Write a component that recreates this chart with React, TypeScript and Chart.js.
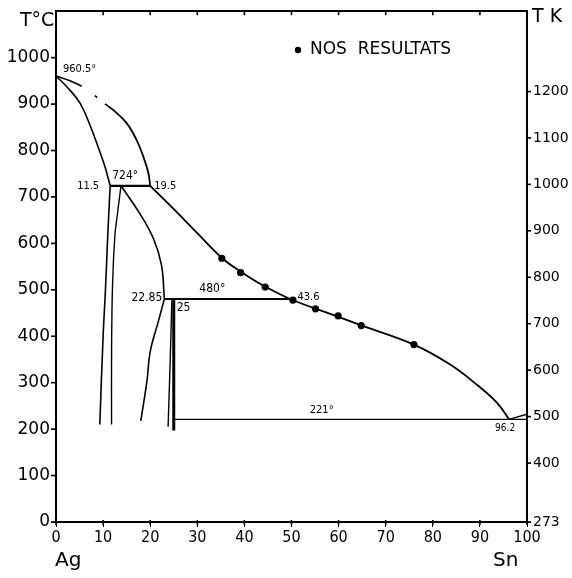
import React, { useEffect, useRef } from "react";
import { Chart, registerables } from "chart.js";

Chart.register(...registerables);

// ---- axis ticks ----
const compositionTicks = [0, 10, 20, 30, 40, 50, 60, 70, 80, 90, 100];
const celsiusTicks = [0, 100, 200, 300, 400, 500, 600, 700, 800, 900, 1000];
const kelvinTicks = [273, 400, 500, 600, 700, 800, 900, 1000, 1100, 1200];

// ---- liquidus ----
const liqDashX = [0, 3.0, 6.5, 9.3, 11.0];
const liqDashT = [960.5, 950, 932, 909, 896];
const liqUpperX = [11.0, 12.2, 15.0, 17.1, 18.5, 19.6, 20.0];
const liqUpperT = [896, 887, 859, 823, 788, 752, 724];
const liqLowerX = [20.0, 25.6, 30.0, 35.3, 39.4, 44.4, 50.2, 57.5, 65.0, 76.0, 83.7, 89.3, 93.6, 96.2];
const liqLowerT = [724, 668, 622, 568, 538, 507, 478, 451, 423, 382, 339, 296, 257, 221];

// ---- solidus / solvus lines ----
const agSolidusX = [0, 2.5, 5.1, 7.2, 9.0, 10.4, 11.5];
const agSolidusT = [960.5, 935, 902, 855, 806, 765, 724];
const agSolvusX = [11.5, 11.0, 10.5, 10.0, 9.3];
const agSolvusT = [724, 620, 500, 400, 210];
const zetaLeftX = [13.8, 13.0, 12.5, 12.0, 11.8, 11.8];
const zetaLeftT = [724, 660, 617, 510, 367, 210];
const zetaRightUpX = [13.8, 17.8, 20.7, 22.4, 23.0];
const zetaRightUpT = [724, 664, 610, 553, 480];
const zetaRightLowX = [23.0, 21.7, 20.0, 19.3, 18.0];
const zetaRightLowT = [480, 431, 367, 303, 218];
const epsLeftX = [24.6, 24.4, 24.1, 23.8];
const epsLeftT = [480, 400, 300, 205];
const epsRightX = [25, 25];
const epsRightT = [480, 197];

// ---- invariant lines ----
const peri724X = [11.5, 20.0];
const peri724T = [724, 724];
const peri480X = [23.0, 50.2];
const peri480T = [480, 480];
const eut221X = [25, 100];
const eut221T = [221, 221];
const snX = [96.2, 100];
const snT = [221, 232];

// ---- measured points (NOS RESULTATS) ----
const resultsX = [35.2, 39.2, 44.4, 50.3, 55.1, 59.9, 64.8, 76.0];
const resultsT = [568, 537, 506, 478, 459, 444, 423, 382];

const toPts = (xs: number[], ts: number[]) => xs.map((x, i) => ({ x, y: ts[i] }));

const SANS = "'DejaVu Sans', 'Liberation Sans', sans-serif";
const COND = "'DejaVu Sans Condensed', 'Liberation Sans Narrow', 'DejaVu Sans', sans-serif";

function line(xs: number[], ts: number[], width = 1.8, dash: number[] = [], tension = 0.4) {
  return {
    data: toPts(xs, ts),
    showLine: true,
    borderColor: "#000",
    backgroundColor: "#000",
    borderWidth: width,
    borderDash: dash,
    pointRadius: 0,
    tension,
    xAxisID: "x",
    yAxisID: "y",
  };
}

const plainLabel = (v: any) => String(v);

const labelsPlugin = {
  id: "phaseLabels",
  afterDraw(chart: any) {
    const { ctx, chartArea } = chart;
    const x = chart.scales.x;
    const y = chart.scales.y;
    const yK = chart.scales.yK;
    const px = (v: number) => x.getPixelForValue(v);
    const py = (v: number) => y.getPixelForValue(v);
    ctx.save();
    ctx.fillStyle = "#000";
    ctx.strokeStyle = "#000";
    ctx.textBaseline = "middle";
    const txt = (s: string, xx: number, yy: number, size: number, align = "left", fam = COND) => {
      ctx.font = `${size}px ${fam}`;
      ctx.textAlign = align;
      ctx.fillText(s, xx, yy);
    };
    const seg = (x1: number, y1: number, x2: number, y2: number) => {
      ctx.beginPath();
      ctx.moveTo(x1, y1);
      ctx.lineTo(x2, y2);
      ctx.stroke();
    };
    txt("960.5°", px(0) + 7, py(960.5) - 7, 11);
    txt("11.5", px(peri724X[0]) - 11, py(724), 11, "right");
    txt("724°", px(peri724X[0]) + 2, py(724) - 10, 12);
    txt("19.5", px(peri724X[1]) + 4, py(724), 11);
    txt("22.85", px(peri480X[0]) - 2, py(480) - 1, 12, "right");
    txt("480°", px(peri480X[0]) + 35, py(480) - 10, 12);
    txt("25", px(25) + 3, py(480) + 9, 12);
    txt("43.6", px(peri480X[1]) + 5, py(480) - 2, 11);
    txt("221°", px(25) + 136, py(221) - 9, 11);
    txt("96.2", px(96.2) - 4, py(221) + 9, 10, "center");

    // tick marks
    ctx.lineWidth = 1.6;
    for (const v of compositionTicks) {
      if (v > 0 && v < 100) seg(px(v), chartArea.top, px(v), chartArea.top + 4);
      seg(px(v), chartArea.bottom - 2, px(v), chartArea.bottom + 3);
    }
    for (const v of celsiusTicks) seg(chartArea.left, py(v), chartArea.left - 5, py(v));
    for (const v of kelvinTicks) seg(chartArea.right, yK.getPixelForValue(v), chartArea.right + 4, yK.getPixelForValue(v));

    // axis titles
    txt("T°C", 20, 21, 19, "left", SANS);
    txt("T K", 532, 17, 19, "left", SANS);
    ctx.textBaseline = "alphabetic";
    txt("Ag", chartArea.left - 1, 566, 20, "left", SANS);
    txt("Sn", chartArea.right - 34, 566, 20, "left", SANS);

    // legend
    ctx.beginPath();
    ctx.arc(chartArea.left + 242, 50, 3.2, 0, Math.PI * 2);
    ctx.fill();
    ctx.textBaseline = "middle";
    txt("NOS  RESULTATS", chartArea.left + 254, 50, 17, "left", SANS);
    ctx.restore();
  },
};

export default function App() {
  const ref = useRef<HTMLCanvasElement | null>(null);
  useEffect(() => {
    const canvas = ref.current;
    if (!canvas) return;
    const chart = new Chart(canvas, {
      type: "scatter",
      data: {
        datasets: [
          line(liqDashX, liqDashT, 1.6, [28, 16, 3, 10]),
          line(liqUpperX, liqUpperT),
          line(liqLowerX, liqLowerT),
          line(agSolidusX, agSolidusT, 1.6),
          line(agSolvusX, agSolvusT, 1.6),
          line(zetaLeftX, zetaLeftT, 1.4),
          line(zetaRightUpX, zetaRightUpT, 1.6),
          line(zetaRightLowX, zetaRightLowT, 1.6),
          line(epsLeftX, epsLeftT, 1.4, [], 0),
          line(epsRightX, epsRightT, 3, [], 0),
          line(peri724X, peri724T, 2.2, [], 0),
          line(peri480X, peri480T, 2, [], 0),
          line(eut221X, eut221T, 1.2, [], 0),
          line(snX, snT, 1.4, [], 0),
          {
            data: toPts(resultsX, resultsT),
            showLine: false,
            pointRadius: 3.6,
            pointBackgroundColor: "#000",
            pointBorderColor: "#000",
            pointBorderWidth: 0,
            xAxisID: "x",
            yAxisID: "y",
          },
        ] as any,
      },
      options: {
        animation: false,
        responsive: false,
        devicePixelRatio: 1,
        layout: { padding: 0 },
        plugins: { legend: { display: false }, tooltip: { enabled: false } },
        scales: {
          x: {
            type: "linear",
            position: "bottom",
            min: 0,
            max: 100,
            afterBuildTicks: (s: any) => {
              s.ticks = compositionTicks.map((v) => ({ value: v }));
            },
            afterFit: (s: any) => {
              s.height = 56;
            },
            border: { display: true, color: "#000", width: 2 },
            grid: { drawOnChartArea: false, color: "#000", tickLength: 5 },
            ticks: { color: "#000", font: { family: COND, size: 16 }, padding: 1, maxRotation: 0, autoSkip: false, callback: plainLabel },
          },
          xTop: {
            type: "linear",
            position: "top",
            min: 0,
            max: 100,
            afterFit: (s: any) => {
              s.height = 7;
            },
            border: { display: true, color: "#000", width: 2 },
            grid: { display: false },
            ticks: { display: false },
          },
          y: {
            type: "linear",
            position: "left",
            min: 0,
            max: 1100,
            afterBuildTicks: (s: any) => {
              s.ticks = celsiusTicks.map((v) => ({ value: v }));
            },
            afterFit: (s: any) => {
              s.width = 56;
            },
            border: { display: true, color: "#000", width: 2 },
            grid: { drawOnChartArea: false, color: "#000", tickLength: 5 },
            ticks: { color: "#000", font: { family: SANS, size: 17 }, padding: 1, autoSkip: false, callback: plainLabel },
          },
          yK: {
            type: "linear",
            position: "right",
            min: 273,
            max: 1373,
            afterBuildTicks: (s: any) => {
              s.ticks = kelvinTicks.map((v) => ({ value: v }));
            },
            afterFit: (s: any) => {
              s.width = 45;
            },
            border: { display: true, color: "#000", width: 2 },
            grid: { drawOnChartArea: false, color: "#000", tickLength: 4 },
            ticks: { color: "#000", font: { family: SANS, size: 14 }, padding: 2, autoSkip: false, callback: plainLabel },
          },
        },
      } as any,
      plugins: [labelsPlugin as any],
    });
    return () => chart.destroy();
  }, []);

  return (
    <div style={{ position: "fixed", left: 0, top: 0, width: 572, height: 578, background: "#fff" }}>
      <canvas ref={ref} width={572} height={578} style={{ width: 572, height: 578, display: "block" }} />
    </div>
  );
}
